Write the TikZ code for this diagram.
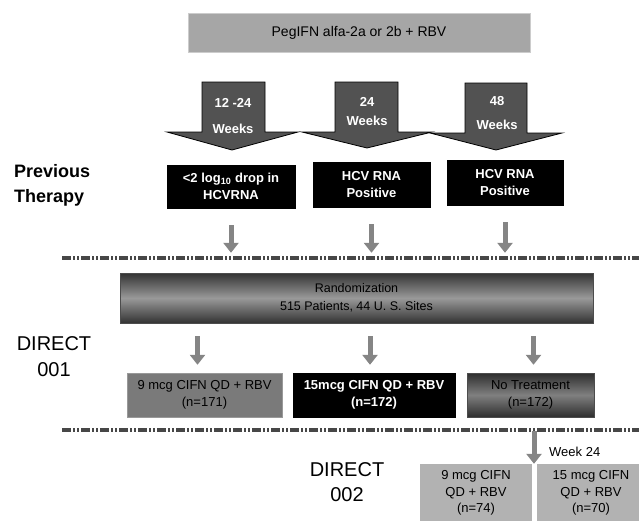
\documentclass[tikz,border=0pt]{standalone}
\usepackage{fontspec}
\setmainfont{Liberation Sans}
\usetikzlibrary{arrows.meta,positioning}

\begin{document}
\begin{tikzpicture}[x=1pt,y=-1pt,>=Latex,
  box/.style={draw=black!40,inner sep=1pt,align=center,font=\fontsize{13}{17}\selectfont},
  darkbox/.style={box,draw=black,fill=black,text=white,font=\bfseries\fontsize{13}{17}\selectfont},
  shadebox/.style={box,draw=black!70,top color=black!80,bottom color=black!80,middle color=black!40},
  bigarr/.style={draw=black,line width=0.8pt,fill=black!68},
  smallarr/.style={draw=black!48,line width=5pt,-{Triangle[width=15pt,length=10pt]}},
  sepline/.style={draw=black!72,line width=3.5pt,dash pattern=on 9pt off 2pt on 2pt off 2pt on 2pt off 2pt},
  weeks/.style={text=white,align=center,font=\bfseries\fontsize{13}{16}\selectfont},
  label/.style={align=center,inner sep=0pt,font=\fontsize{20}{26}\selectfont}]
  \useasboundingbox (0,0) rectangle (639,520);

  % regimen on top
  \node[box,draw=black!20,fill=black!35,minimum width=342pt,minimum height=39pt,font=\fontsize{14}{16}\selectfont] (peg) at (359,32.5)
    {PegIFN alfa-2a or 2b + RBV};

  % duration arrows
  \filldraw[bigarr] (202,82) -- (265,82) -- (265,132) -- (298,132) -- (232,150) -- (167,132) -- (202,132) -- cycle;
  \filldraw[bigarr] (335,82) -- (398,82) -- (398,132) -- (432,132) -- (367,148) -- (302,132) -- (335,132) -- cycle;
  \filldraw[bigarr] (465,83) -- (527,83) -- (527,133) -- (562,133) -- (496,150) -- (430,133) -- (465,133) -- cycle;
  \node[weeks] (w1) at (233,116) {12 -24\\[10pt]Weeks};
  \node[weeks] (w2) at (367,112) {24\\[3pt]Weeks};
  \node[weeks] (w3) at (497,113) {48\\[8pt]Weeks};

  % previous therapy
  \node[label,anchor=north west,align=left,font=\bfseries\fontsize{18}{25}\selectfont] (prev) at (14,164) {Previous\\Therapy};
  \node[darkbox,minimum width=128pt,minimum height=43pt] (b1) at (231,186.5)
    {<2 log\textsubscript{10} drop in\\HCVRNA};
  \node[darkbox,minimum width=117pt,minimum height=45pt] (b2) at (371.5,184.5) {HCV RNA\\Positive};
  \node[darkbox,minimum width=116pt,minimum height=45pt] (b3) at (505,182.5) {HCV RNA\\Positive};

  \draw[sepline] (62,258) -- (639,258);

  % DIRECT 001
  \node[shadebox,minimum width=473pt,minimum height=50pt,font=\fontsize{12.5}{18}\selectfont] (rnd) at (356.5,298)
    {Randomization\\515 Patients, 44 U. S. Sites};
  \foreach \b in {b1,b2,b3}
    \draw[smallarr,shorten <=17pt,shorten >=20pt] (\b.south) -- (\b.south |- rnd.north);

  \node[label,anchor=north] (d001) at (54,336) {DIRECT\\001};
  \node[box,fill=black!52,minimum width=155pt,minimum height=44pt] (t1) at (204.5,395) {9 mcg CIFN QD + RBV\\(n=171)};
  \node[darkbox,minimum width=162pt,minimum height=44pt] (t2) at (374,395) {15mcg CIFN QD + RBV\\(n=172)};
  \node[shadebox,top color=black!82,bottom color=black!82,middle color=black!50,minimum width=127pt,minimum height=44pt] (t3) at (530.5,395)
    {No Treatment\\(n=172)};
  \draw[smallarr,shorten <=13pt,shorten >=8pt] ([xshift=-7pt]t1.north |- rnd.south) -- ([xshift=-7pt]t1.north);
  \draw[smallarr,shorten <=13pt,shorten >=8pt] ([xshift=-4pt]t2.north |- rnd.south) -- ([xshift=-4pt]t2.north);
  \draw[smallarr,shorten <=13pt,shorten >=8pt] ([xshift=3pt]t3.north |- rnd.south) -- ([xshift=3pt]t3.north);

  \draw[sepline] (62,430) -- (639,430);

  % DIRECT 002
  \node[label,anchor=north,font=\fontsize{20}{25}\selectfont] (d002) at (347,462) {DIRECT\\002};
  \node[box,draw=none,fill=black!30,minimum width=112pt,minimum height=58pt,font=\fontsize{13}{16.5}\selectfont] (d1) at (476,493)
    {9 mcg CIFN\\QD + RBV\\(n=74)};
  \node[box,draw=none,fill=black!30,minimum width=108pt,minimum height=58pt,font=\fontsize{13}{16.5}\selectfont] (d2) at (591,493)
    {15 mcg CIFN\\QD + RBV\\(n=70)};
  \coordinate (wk) at (534,431);
  \draw[smallarr] (wk) -- (wk |- d1.north);
  \node[anchor=west,inner sep=0pt,font=\fontsize{13}{16}\selectfont] (week) at (549,452) {Week 24};
\end{tikzpicture}
\end{document}
